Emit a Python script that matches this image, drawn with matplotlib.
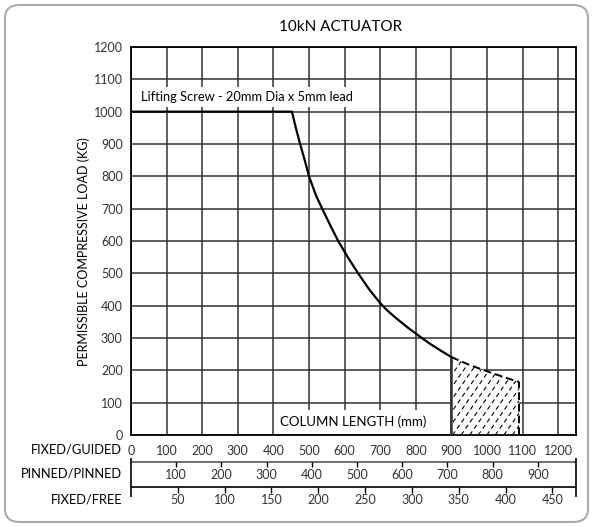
import numpy as np
import matplotlib
matplotlib.use("Agg")
import matplotlib.pyplot as plt
from matplotlib.patches import Polygon, FancyBboxPatch

plt.rcParams['font.family'] = ['Lato', 'DejaVu Sans']

# data (fixed/guided column length in mm, load in kg)
solid_len = [0, 452, 463, 475, 488, 500, 520, 537, 560, 582, 610, 638, 670,
             700, 720, 745, 780, 812, 840, 870, 900]
solid_load = [1000, 1000, 950, 900, 850, 800, 740, 700, 648, 600, 548, 500,
              449, 408, 385, 361, 330, 304, 282, 261, 241]
dash_len = [900, 950, 1000, 1050, 1090]
dash_load = [241, 217, 197, 178, 164]

guided_ticks = [0, 100, 200, 300, 400, 500, 600, 700, 800, 900, 1000, 1100, 1200]
load_ticks = [0, 100, 200, 300, 400, 500, 600, 700, 800, 900, 1000, 1100, 1200]
pinned_ticks = [100, 200, 300, 400, 500, 600, 700, 800, 900]
free_ticks = [50, 100, 150, 200, 250, 300, 350, 400, 450]
pinned_factor = 1.27   # guided mm per pinned/pinned mm
free_factor = 2.63     # guided mm per fixed/free mm

W, H = 593, 527
fig = plt.figure(figsize=(W / 100, H / 100), dpi=100)

# outer rounded frame
frame = FancyBboxPatch((5 / W, 5 / H), 583 / W, 517 / H,
                       boxstyle="round,pad=0,rounding_size=0.025",
                       transform=fig.transFigure, fill=False,
                       edgecolor='#aaaaaa', linewidth=1.5)
fig.patches.append(frame)

ax = fig.add_axes([131 / W, 1 - 435 / H, 445 / W, 388 / H])
ax.set_xlim(0, 1250)
ax.set_ylim(0, 1200)
ax.set_xticks(guided_ticks)
ax.set_yticks(load_ticks)
ax.set_axisbelow(True)
ax.grid(True, color='#333333', linewidth=1.1)
ax.tick_params(length=0, labelsize=9, labelcolor='#333333')
ax.tick_params(axis='y', pad=6)
ax.tick_params(axis='x', pad=7)
ax.set_yticklabels([str(v) for v in load_ticks])
for s in ax.spines.values():
    s.set_linewidth(1.3)

# curve
ax.plot(solid_len, solid_load, color='black', linewidth=1.6, zorder=5)
ax.plot(dash_len, dash_load, color='black', linewidth=1.4, dashes=(4, 2), zorder=5)

# hatched region beyond the solid curve
poly_x = dash_len + [dash_len[-1], dash_len[0]]
poly_y = dash_load + [0, 0]
patch = Polygon(np.column_stack([poly_x, poly_y]), closed=True,
                facecolor='white', edgecolor='none', zorder=2)
ax.add_patch(patch)
slope = 1.58
for c in np.arange(dash_len[0] - 260 / slope, dash_len[-1] + 10, 24):
    ln, = ax.plot([c, c + 260 / slope], [0, 260], color='black',
                  linewidth=0.8, dashes=(4, 3), zorder=3)
    ln.set_clip_path(patch)
ax.plot([dash_len[0], dash_len[0]], [0, dash_load[0]], color='#333333',
        linewidth=1.8, zorder=4)
ax.plot([dash_len[-1], dash_len[-1]], [0, dash_load[-1]], color='black',
        linewidth=1.4, dashes=(4, 2), zorder=4)

ax.text(28, 1046, "Lifting Screw - 20mm Dia x 5mm lead", fontsize=9.3,
        va='center', ha='left', zorder=6,
        bbox=dict(facecolor='white', edgecolor='none', pad=3))
ax.text(624, 40, "COLUMN LENGTH (mm)", fontsize=9.5, va='center',
        ha='center', zorder=6,
        bbox=dict(facecolor='white', edgecolor='none', pad=4))

fig.text(341 / W, 1 - 27 / H, "10kN ACTUATOR", fontsize=11, ha='center',
         va='center')
fig.text(84 / W, 1 - 252 / H, "PERMISSIBLE COMPRESSIVE LOAD (KG)",
         fontsize=9, rotation=90, ha='center', va='center')

# conversion scales under the chart (y in pixel rows)
sc = fig.add_axes([131 / W, 1 - 510 / H, 445 / W, 55 / H])
sc.set_xlim(0, 1250)
sc.set_ylim(510, 455)
sc.axis('off')
sc.hlines([462], 0, 1250, color='#555555', linewidth=1.2, clip_on=False)
sc.hlines([487], 0, 1250, color='black', linewidth=1.2, clip_on=False)
sc.vlines([0, 1250], 458, 497, color='black', linewidth=1.2, clip_on=False)
for v in pinned_ticks:
    x = v * pinned_factor
    sc.vlines(x, 462, 467, color='black', linewidth=1.0)
    sc.text(x, 474.5, str(v), fontsize=9, color='#333333',
            ha='center', va='center')
for v in free_ticks:
    x = v * free_factor
    sc.vlines(x, 487, 493, color='black', linewidth=1.0)
    sc.text(x, 500, str(v), fontsize=9, color='#333333',
            ha='center', va='center')

fig.text(122 / W, 1 - 449 / H, "FIXED/GUIDED", fontsize=9.3, ha='right', va='center')
fig.text(122 / W, 1 - 474 / H, "PINNED/PINNED", fontsize=9.3, ha='right', va='center')
fig.text(122 / W, 1 - 499 / H, "FIXED/FREE", fontsize=9.3, ha='right', va='center')

fig.savefig("out.png", dpi=100)
